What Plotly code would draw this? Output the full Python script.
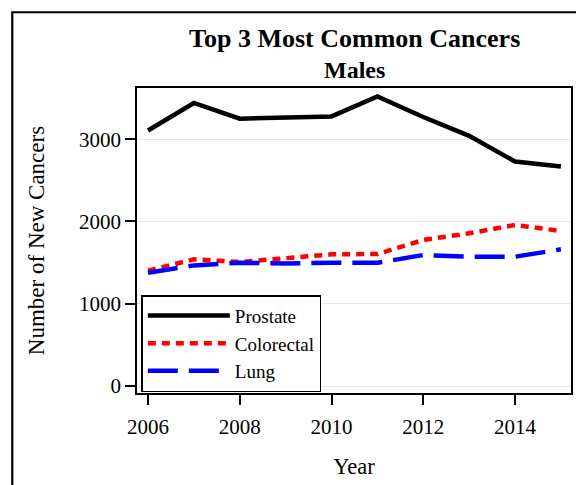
import plotly.graph_objects as go

years = [2006, 2007, 2008, 2009, 2010, 2011, 2012, 2013, 2014, 2015]
prostate = [3106, 3440, 3249, 3264, 3277, 3520, 3269, 3041, 2728, 2667]
colorectal = [1401, 1540, 1507, 1547, 1600, 1604, 1775, 1856, 1957, 1884]
lung = [1377, 1466, 1498, 1490, 1498, 1498, 1592, 1571, 1571, 1661]

x_ticks = [2006, 2008, 2010, 2012, 2014]
y_ticks = [0, 1000, 2000, 3000]

FONT = "Liberation Serif, Times New Roman, serif"

fig = go.Figure()
fig.add_trace(go.Scatter(x=years, y=prostate, mode="lines", name="Prostate",
                         line=dict(color="#000000", width=4.5)))
fig.add_trace(go.Scatter(x=years, y=colorectal, mode="lines", name="Colorectal",
                         line=dict(color="#ff0000", width=4.5, dash="8px,6px")))
fig.add_trace(go.Scatter(x=years, y=lung, mode="lines", name="Lung",
                         line=dict(color="#0000ff", width=4.5, dash="30px,11px")))

fig.update_layout(
    width=576, height=485,
    margin=dict(l=137, r=3, t=88, b=92),
    paper_bgcolor="white", plot_bgcolor="white",
    font=dict(family=FONT, color="black", size=21),
    showlegend=True,
    legend=dict(x=0.01, y=0.003, xanchor="left", yanchor="bottom",
                bgcolor="white", bordercolor="black", borderwidth=1.5,
                font=dict(family=FONT, size=19, color="black"),
                itemwidth=82, tracegroupgap=0),
    xaxis=dict(range=[2005.76, 2015.22], tickvals=x_ticks, ticktext=[str(v) for v in x_ticks],
               showgrid=False, zeroline=False, showline=True, linecolor="black", linewidth=1.5,
               mirror=True, ticks="outside", ticklen=10, tickwidth=1.5, tickcolor="black",
               tickfont=dict(family=FONT, size=21), ticklabelstandoff=4,
               title=dict(text="Year", font=dict(family=FONT, size=22.5), standoff=20)),
    yaxis=dict(range=[-85, 3622], tickvals=y_ticks, ticktext=[str(v) for v in y_ticks],
               showgrid=True, gridcolor="#e6e6e6", gridwidth=1, zeroline=False,
               showline=True, linecolor="black", linewidth=1.5, mirror=True,
               ticks="outside", ticklen=10, tickwidth=1.5, tickcolor="black",
               tickfont=dict(family=FONT, size=21),
               title=dict(text="Number of New Cancers", font=dict(family=FONT, size=23), standoff=28)),
    annotations=[
        dict(text="<b>Top 3 Most Common Cancers</b>", xref="paper", yref="paper",
             x=0.5, y=1 + (88.3 - 39) / 304.4, xanchor="center", yanchor="middle",
             showarrow=False, font=dict(family=FONT, size=26, color="black")),
        dict(text="<b>Males</b>", xref="paper", yref="paper",
             x=0.5, y=1 + (88.3 - 70.5) / 304.4, xanchor="center", yanchor="middle",
             showarrow=False, font=dict(family=FONT, size=24, color="black")),
    ],
    shapes=[
        dict(type="rect", xref="paper", yref="paper",
             x0=(12 - 137.3) / 436, x1=(620 - 137.3) / 436,
             y0=(392.7 - 520) / 304.4, y1=(392.7 - 12.7) / 304.4,
             line=dict(color="black", width=2.2), fillcolor="rgba(0,0,0,0)", layer="below"),
    ],
)

fig.write_html("out.html", config={"displayModeBar": False},
               post_script="document.body.style.margin='0px';")
